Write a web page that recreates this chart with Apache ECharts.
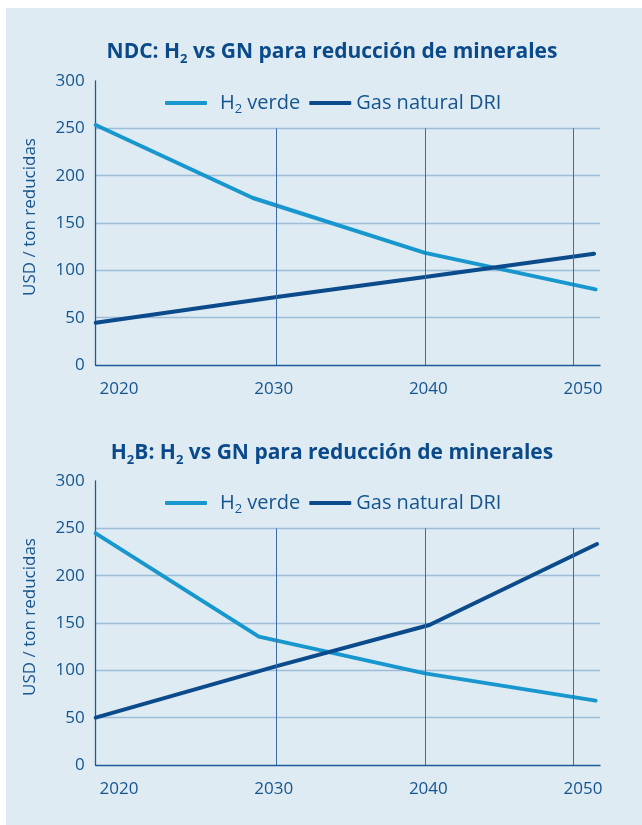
<!DOCTYPE html>
<html><head><meta charset="utf-8">
<script src="https://cdn.jsdelivr.net/npm/echarts@6/dist/echarts.min.js"></script>
<style>
body{margin:0;background:#fff;}
#panel{position:absolute;left:6px;top:8px;width:636px;height:817px;background:#deebf2;}
#chart{position:absolute;left:0;top:0;width:642px;height:825px;}
</style></head><body><div id="panel"></div><div id="chart"></div>
<script>
const seriesNames = ['H2 verde', 'Gas natural DRI'];
const ndcH2Years = [2017.8, 2028.4, 2040, 2051.5];
const ndcH2Values = [253.5, 176.4, 118.4, 79.9];
const ndcGasYears = [2017.8, 2030, 2040, 2051.4];
const ndcGasValues = [44.7, 71.8, 93, 117.6];
const h2bH2Years = [2017.8, 2028.8, 2040, 2051.5];
const h2bH2Values = [244.7, 135.6, 96.8, 68];
const h2bGasYears = [2017.8, 2030, 2040.3, 2051.6];
const h2bGasValues = [50, 104.5, 147.9, 233.4];
const xTickLabels = [2020, 2030, 2040, 2050];
const gridYears = [2030, 2040, 2050];
const gridTopValue = 250;

const FONT = 'Open Sans';
const TXT = '#15558f';
const TITLE = '#0b4a8a';
const C_H2 = '#1897cf';
const C_GAS = '#0b4a8b';

function pairs(xs, ys){ return xs.map((x,i)=>[x, ys[i]]); }

const titleRich = {
  b:{fontFamily:FONT, fontWeight:'bold', fontSize:21, color:TITLE, lineHeight:28},
  s:{fontFamily:FONT, fontWeight:'bold', fontSize:13, color:TITLE, lineHeight:13, verticalAlign:'bottom'}
};
const legendRich = {
  h:{fontFamily:FONT, fontSize:20, color:TXT, lineHeight:26, padding:[0,0,0,8]},
  n:{fontFamily:FONT, fontSize:20, color:TXT, lineHeight:26},
  s:{fontFamily:FONT, fontSize:13, color:TXT, lineHeight:12, verticalAlign:'bottom'}
};

const tops = [81, 481];
const grids = tops.map(t=>({left:95.7, right:42, top:t, height:284}));

const xAxes = [];
const yAxes = [];
tops.forEach((t,i)=>{
  xAxes.push({type:'value', gridIndex:i, min:2017.8, max:2051.8, position:'bottom',
    axisLine:{show:true, lineStyle:{color:'#1d5a9a', width:1.3}}, axisTick:{show:false},
    axisLabel:{show:false}, splitLine:{show:false}});
  xAxes.push({type:'value', gridIndex:i, min:2018.49, max:2051.1, position:'bottom',
    axisLine:{show:false}, axisTick:{show:false}, splitLine:{show:false},
    axisLabel:{show:true, customValues:xTickLabels, margin:16, color:TXT, fontFamily:FONT, fontSize:17,
      formatter: v=>String(v)}});
  yAxes.push({type:'value', gridIndex:i, min:0, max:300, interval:50,
    name:'USD / ton reducidas', nameLocation:'middle', nameGap:57,
    nameTextStyle:{color:TXT, fontFamily:FONT, fontSize:17, padding:[0,0,0,12]},
    axisLine:{show:true, lineStyle:{color:'#1d5a9a', width:1.3}}, axisTick:{show:false},
    axisLabel:{color:TXT, fontFamily:FONT, fontSize:17, margin:11},
    splitLine:{show:true, showMaxLine:false, showMinLine:false, lineStyle:{color:'#9dbdd9', width:1.3}}});
});

function lineSeries(name, data, color, gi){
  return {type:'line', name, data, xAxisIndex:gi*2, yAxisIndex:gi, symbol:'none', z:3,
    lineStyle:{color, width:4, cap:'round', join:'round'}, itemStyle:{color}};
}
function vgrid(gi){
  return {type:'line', name:'grid'+gi, data:[], xAxisIndex:gi*2, yAxisIndex:gi, z:1, silent:true,
    markLine:{silent:true, symbol:'none', label:{show:false}, animation:false,
      lineStyle:{color:'#3b6ea8', width:1, type:'solid'},
      data: gridYears.map(y=>[{coord:[y,0]},{coord:[y,gridTopValue]}])}};
}

const legendFmt = n => n==='H2 verde' ? '{h|H}{s|2}{n| verde}' : '{n|'+n+'}';

const option = {
  animation:false,
  title:[
    {text:'{b|NDC: H}{s|2}{b| vs GN para reducción de minerales}', left:327, textAlign:'center', top:33,
      textStyle:{rich:titleRich}},
    {text:'{b|H}{s|2}{b|B: H}{s|2}{b| vs GN para reducción de minerales}', left:327, textAlign:'center', top:434,
      textStyle:{rich:titleRich}}
  ],
  legend:[
    {data:seriesNames, left:160, top:88, itemWidth:42, itemHeight:4, itemGap:9, icon:'roundRect',
      formatter:legendFmt, textStyle:{rich:legendRich}},
    {data:seriesNames, left:160, top:488, itemWidth:42, itemHeight:4, itemGap:9, icon:'roundRect',
      formatter:legendFmt, textStyle:{rich:legendRich}}
  ],
  grid:grids,
  xAxis:xAxes,
  yAxis:yAxes,
  series:[
    vgrid(0), vgrid(1),
    lineSeries(seriesNames[0], pairs(ndcH2Years, ndcH2Values), C_H2, 0),
    lineSeries(seriesNames[1], pairs(ndcGasYears, ndcGasValues), C_GAS, 0),
    lineSeries(seriesNames[0], pairs(h2bH2Years, h2bH2Values), C_H2, 1),
    lineSeries(seriesNames[1], pairs(h2bGasYears, h2bGasValues), C_GAS, 1)
  ]
};
const chart = echarts.init(document.getElementById('chart'), null, {renderer:'canvas'});
chart.setOption(option);
</script></body></html>
